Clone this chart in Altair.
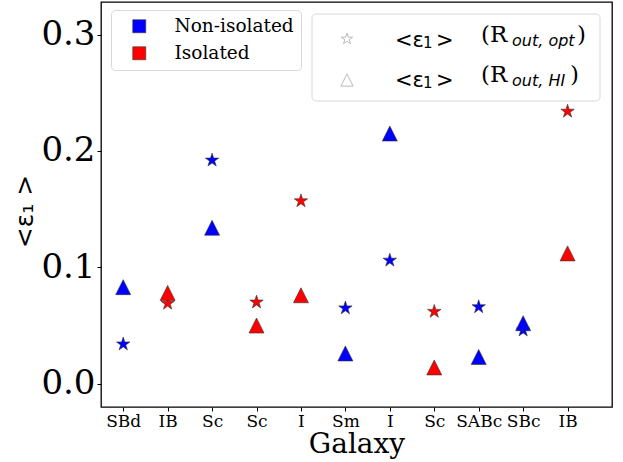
import altair as alt
import pandas as pd

labels = ["SBd", "IB", "Sc", "Sc", "I", "Sm", "I", "Sc", "SABc", "SBc", "IB"]
types = ["Non-isolated", "Isolated", "Non-isolated", "Isolated", "Isolated",
         "Non-isolated", "Non-isolated", "Isolated", "Non-isolated", "Non-isolated", "Isolated"]
eps_opt = [0.034, 0.069, 0.192, 0.070, 0.157, 0.065, 0.106, 0.062, 0.066, 0.046, 0.234]
eps_hi = [0.083, 0.078, 0.134, 0.050, 0.076, 0.026, 0.215, 0.014, 0.023, 0.052, 0.112]

df = pd.DataFrame({"idx": list(range(len(labels))), "Galaxy": labels, "Type": types,
                   "opt": eps_opt, "hi": eps_hi})

STAR = ("M0,-1L0.225,-0.309L0.951,-0.309L0.363,0.118L0.588,0.809L0,0.382"
        "L-0.588,0.809L-0.363,0.118L-0.951,-0.309L-0.225,-0.309Z")
TRI = "M0,-1L1,1L-1,1Z"

label_expr = "[" + ",".join("'%s'" % l for l in labels) + "][datum.value]"

xenc = alt.X("idx:Q", scale=alt.Scale(domain=[-0.5, 11], nice=False, zero=False),
             axis=alt.Axis(values=list(range(len(labels))), labelExpr=label_expr,
                           labelFont="DejaVu Serif", labelFontSize=17, labelAngle=0,
                           labelColor="black", tickColor="black", tickSize=4, labelPadding=2,
                           domain=False, grid=False, title="Galaxy", titleFont="DejaVu Serif",
                           titleFontSize=28, titleFontWeight="normal", titleColor="black",
                           titlePadding=1))
yscale = alt.Scale(domain=[-0.02, 0.328], nice=False, zero=False)
yaxis = alt.Axis(values=[0, 0.1, 0.2, 0.3], format=".1f", labelFont="DejaVu Serif",
                 labelFontSize=34, labelColor="black", tickColor="black", tickSize=4,
                 labelPadding=2, domain=False, grid=False, title="<ε₁ >",
                 titleFont="DejaVu Sans", titleFontSize=25, titleFontWeight="normal",
                 titleColor="black", titlePadding=3, titleY=209)
legend = alt.Legend(title=None, orient="none", legendX=10, legendY=8,
                    fillColor="white", strokeColor="#d8d8d8", cornerRadius=4,
                    padding=7, symbolType="square", symbolSize=169,
                    symbolStrokeColor="#333333", symbolStrokeWidth=0.6,
                    symbolOffset=12, labelFont="DejaVu Serif", labelFontSize=18.5,
                    labelColor="black", labelOffset=26, rowPadding=8)
cscale = alt.Scale(domain=["Non-isolated", "Isolated"], range=["#0000ff", "#ff0000"])

stars = alt.Chart(df).mark_point(shape=STAR, filled=True, opacity=1, size=200,
                                 stroke="#333333", strokeWidth=0.6).encode(
    x=xenc, y=alt.Y("opt:Q", scale=yscale, axis=yaxis),
    color=alt.Color("Type:N", scale=cscale, legend=legend))
tris = alt.Chart(df).mark_point(shape=TRI, filled=True, opacity=1, size=225,
                                stroke="#333333", strokeWidth=0.6).encode(
    x=alt.X("idx:Q"), y=alt.Y("hi:Q"), color=alt.Color("Type:N", scale=cscale, legend=legend))

one = pd.DataFrame({"a": [0]})
box = alt.Chart(one).mark_rect(fill="white", stroke="#d8d8d8", cornerRadius=4, strokeWidth=1).encode(
    x=alt.value(211), x2=alt.value(499), y=alt.value(12), y2=alt.value(99))
sym_star = alt.Chart(one).mark_point(shape=STAR, filled=False, color="#888888", size=140,
                                     strokeWidth=0.8).encode(x=alt.value(246), y=alt.value(37))
sym_tri = alt.Chart(one).mark_point(shape=TRI, filled=False, color="#888888", size=150,
                                    strokeWidth=0.8).encode(x=alt.value(246), y=alt.value(78))


def txt(s, x, y, font, size, italic=False):
    return alt.Chart(one).mark_text(text=s, font=font, fontSize=size, align="left",
                                    baseline="alphabetic", color="black",
                                    fontStyle="italic" if italic else "normal").encode(
        x=alt.value(x), y=alt.value(y))


leg_texts = []
for base, sub, close_x in [(40, "out, opt", 476), (80, "out, HI", 469)]:
    leg_texts += [
        txt("<ε", 294, base + 5, "DejaVu Sans", 21),
        txt("1", 322, base + 6, "DejaVu Sans", 15),
        txt(">", 335, base + 5, "DejaVu Sans", 21),
        txt("(R", 380, base, "DejaVu Serif", 23),
        txt(sub, 411, base + 4, "DejaVu Sans", 16, True),
        txt(")", close_x, base, "DejaVu Serif", 23),
    ]

chart = alt.layer(stars, tris, box, sym_star, sym_tri, *leg_texts).properties(
    width=511, height=405,
    autosize=alt.AutoSizeParams(type="none"),
    padding={"left": 101, "top": 2, "right": 11, "bottom": 55},
).configure(background="white").configure_view(stroke="black", strokeWidth=1.3).configure_legend(
    labelFont="DejaVu Serif", labelFontSize=18.5)

chart.save("out.html", embed_options={"renderer": "svg", "actions": False})
